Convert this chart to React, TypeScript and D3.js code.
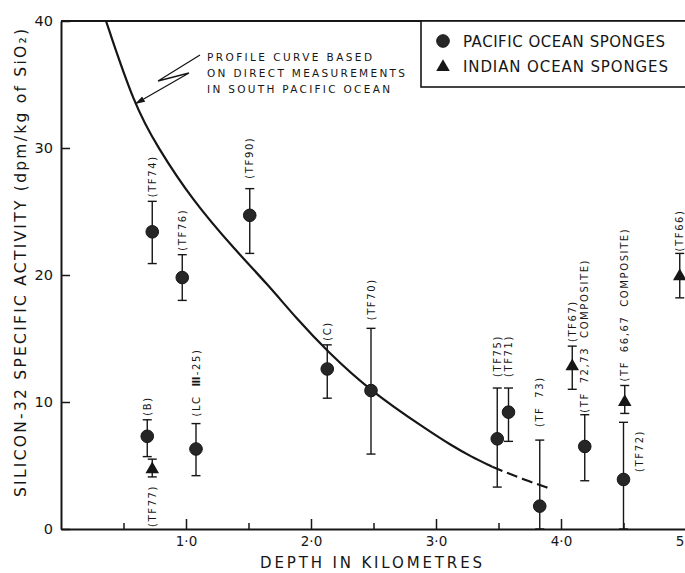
import React, { useEffect, useRef } from 'react';
import * as d3 from 'd3';

const xTickValues = [1, 2, 3, 4, 5];
const xMinorTickValues = [0.5, 1.5, 2.5, 3.5, 4.5];
const yTickValues = [0, 10, 20, 30, 40];

// Pacific ocean sponges: depth (km), Si-32 activity, error bar low/high
const pacificLabels = ['(TF74)', '(TF76)', '(TF90)', '(B)', '(LC III-25)', '(C)', '(TF70)', '(TF75)', '(TF71)', '(TF 73)', '(TF 72,73  COMPOSITE)', '(TF72)'];
const pacificDepth = [0.73, 0.97, 1.51, 0.69, 1.08, 2.13, 2.48, 3.49, 3.58, 3.83, 4.19, 4.5];
const pacificActivity = [23.4, 19.8, 24.7, 7.3, 6.3, 12.6, 10.9, 7.1, 9.2, 1.8, 6.5, 3.9];
const pacificLow = [20.9, 18.0, 21.7, 5.7, 4.2, 10.3, 5.9, 3.3, 6.9, 0, 3.8, 0];
const pacificHigh = [25.8, 21.6, 26.8, 8.6, 8.3, 14.5, 15.8, 11.1, 11.1, 7.0, 9.0, 8.4];

// Indian ocean sponges
const indianLabels = ['(TF77)', '(TF67)', '(TF 66,67 COMPOSITE)', '(TF66)'];
const indianDepth = [0.73, 4.09, 4.51, 4.95];
const indianActivity = [4.7, 12.8, 10.0, 19.9];
const indianLow = [4.1, 11.0, 9.1, 18.2];
const indianHigh = [5.5, 14.4, 11.3, 21.7];

// profile curve (solid part, then dashed extrapolation)
const profileDepth = [0.36, 0.586, 0.77, 1.05, 1.39, 1.65, 1.89, 2.13, 2.47, 2.93, 3.12, 3.28, 3.45];
const profileActivity = [40, 33.4, 30.1, 25.9, 22.0, 19.3, 16.5, 14.0, 10.9, 7.8, 6.6, 5.7, 4.9];
const profileDashDepth = [3.45, 3.71, 3.91];
const profileDashActivity = [4.9, 3.86, 3.2];

const annotationLines = ['PROFILE  CURVE  BASED', 'ON  DIRECT  MEASUREMENTS', 'IN  SOUTH  PACIFIC  OCEAN'];
const legendLabels = ['PACIFIC  OCEAN  SPONGES', 'INDIAN  OCEAN  SPONGES'];

// label placement tweaks (gap in px from the error bar, or side placement)
const labelGap = { '(TF90)': 10, '(TF70)': 8, '(LC III-25)': 7, '(TF75)': 11, '(TF71)': 11, '(TF 73)': 13, '(TF 72,73  COMPOSITE)': 2, '(TF66)': 2 };
const labelSide = { '(TF77)': 'below', '(TF72)': 'right' };

const INK = '#161616';
const FONT = '"DejaVu Sans", sans-serif';

const Chart = () => {
  const svgRef = useRef(null);

  useEffect(() => {
    const width = 685;
    const height = 573;
    const svg = d3.select(svgRef.current);
    svg.selectAll('*').remove();
    svg.attr('width', width).attr('height', height);

    const x = d3.scaleLinear().domain([0, 5]).range([61, 686]);
    const y = d3.scaleLinear().domain([0, 40]).range([529, 21]);

    svg.append('rect').attr('width', width).attr('height', height).attr('fill', '#fff');

    const defs = svg.append('defs');
    defs.append('marker')
      .attr('id', 'arrowhead')
      .attr('markerUnits', 'userSpaceOnUse')
      .attr('markerWidth', 12).attr('markerHeight', 8)
      .attr('refX', 10).attr('refY', 3)
      .attr('orient', 'auto')
      .append('path')
      .attr('d', 'M0,0 L10,3 L0,6 Z')
      .attr('fill', INK);

    // axes
    const xAxis = svg.append('g')
      .attr('transform', `translate(0,${y(0)})`)
      .call(d3.axisBottom(x).tickValues(xTickValues).tickSize(-10).tickSizeOuter(0).tickPadding(7)
        .tickFormat(d => d3.format('.1f')(d).replace('.', '·')));
    xAxis.select('.domain').attr('stroke', INK).attr('stroke-width', 2);
    xAxis.selectAll('.tick line').attr('stroke', INK).attr('stroke-width', 1.5);
    xAxis.selectAll('.tick text').attr('fill', INK).attr('font-family', FONT).attr('font-size', 13.5);

    const xMinor = svg.append('g')
      .attr('transform', `translate(0,${y(0)})`)
      .call(d3.axisBottom(x).tickValues(xMinorTickValues).tickSize(-6).tickFormat(() => ''));
    xMinor.select('.domain').remove();
    xMinor.selectAll('.tick line').attr('stroke', INK).attr('stroke-width', 1.5);

    const yAxis = svg.append('g')
      .attr('transform', `translate(${x(0)},0)`)
      .call(d3.axisLeft(y).tickValues(yTickValues).tickSize(-9).tickSizeOuter(0).tickPadding(8));
    yAxis.select('.domain').attr('stroke', INK).attr('stroke-width', 2);
    yAxis.selectAll('.tick line').attr('stroke', INK).attr('stroke-width', 1.5);
    yAxis.selectAll('.tick text').attr('fill', INK).attr('font-family', FONT).attr('font-size', 14.5);

    // top frame
    svg.append('line')
      .attr('x1', x(0)).attr('x2', width).attr('y1', y(40)).attr('y2', y(40))
      .attr('stroke', INK).attr('stroke-width', 2);

    // axis titles
    svg.append('text')
      .attr('x', 260).attr('y', 568)
      .attr('font-family', FONT).attr('font-size', 15).attr('fill', INK)
      .attr('textLength', 222).attr('lengthAdjust', 'spacing')
      .text('DEPTH  IN  KILOMETRES');
    svg.append('text')
      .attr('transform', 'translate(26,497) rotate(-90)')
      .attr('font-family', FONT).attr('font-size', 15.5).attr('fill', INK)
      .attr('textLength', 468).attr('lengthAdjust', 'spacing')
      .text('SILICON-32  SPECIFIC  ACTIVITY  (dpm/kg  of  SiO₂)');

    // profile curve
    const line = d3.line().x(d => x(d[0])).y(d => y(d[1])).curve(d3.curveBasis);
    svg.append('path')
      .datum(profileDepth.map((d, i) => [d, profileActivity[i]]))
      .attr('d', line)
      .attr('fill', 'none').attr('stroke', INK).attr('stroke-width', 2.2);
    svg.append('path')
      .datum(profileDashDepth.map((d, i) => [d, profileDashActivity[i]]))
      .attr('d', line)
      .attr('fill', 'none').attr('stroke', INK).attr('stroke-width', 2.2)
      .attr('stroke-dasharray', '11,5');

    const pacific = pacificLabels.map((label, i) => ({
      label, depth: pacificDepth[i], value: pacificActivity[i], lo: pacificLow[i], hi: pacificHigh[i], kind: 'circle'
    }));
    const indian = indianLabels.map((label, i) => ({
      label, depth: indianDepth[i], value: indianActivity[i], lo: indianLow[i], hi: indianHigh[i], kind: 'triangle'
    }));
    const points = pacific.concat(indian);

    // error bars
    const bars = svg.append('g').attr('stroke', INK).attr('stroke-width', 1.4);
    points.forEach(p => {
      const cx = x(p.depth);
      bars.append('line').attr('x1', cx).attr('x2', cx).attr('y1', y(p.lo)).attr('y2', y(p.hi));
      bars.append('line').attr('x1', cx - 4.5).attr('x2', cx + 4.5).attr('y1', y(p.lo)).attr('y2', y(p.lo));
      bars.append('line').attr('x1', cx - 4.5).attr('x2', cx + 4.5).attr('y1', y(p.hi)).attr('y2', y(p.hi));
    });

    // markers
    const triangle = d3.symbol().type(d3.symbolTriangle).size(80);
    points.forEach(p => {
      if (p.kind === 'circle') {
        svg.append('circle')
          .attr('cx', x(p.depth)).attr('cy', y(p.value)).attr('r', 6.3)
          .attr('fill', '#262626').attr('stroke', INK).attr('stroke-width', 1);
      } else {
        svg.append('path')
          .attr('d', triangle())
          .attr('transform', `translate(${x(p.depth)},${y(p.value)})`)
          .attr('fill', INK);
      }
    });

    // point labels, rotated
    points.forEach(p => {
      const side = labelSide[p.label] || 'above';
      const gap = labelGap[p.label] ?? 4;
      let lx = x(p.depth);
      let ly = y(p.hi) - gap;
      let anchor = 'start';
      if (side === 'below') {
        ly = y(p.lo) + 8;
        anchor = 'end';
      } else if (side === 'right') {
        lx = x(p.depth) + 16;
        ly = (y(p.hi) + y(p.value)) / 2;
        anchor = 'middle';
      }
      const t = svg.append('text')
        .attr('transform', `translate(${lx},${ly}) rotate(-90)`)
        .attr('dy', '0.36em')
        .attr('text-anchor', anchor)
        .attr('font-family', FONT).attr('font-size', 10).attr('fill', INK)
        .attr('letter-spacing', 1.6).attr('word-spacing', 4);
      if (p.label.includes('III')) {
        // roman numeral drawn with tight spacing
        const [before, after] = p.label.split('III');
        t.append('tspan').text(before);
        t.append('tspan').attr('letter-spacing', -0.6).attr('font-weight', 'bold').text('III');
        t.append('tspan').attr('dx', 2).text(after);
      } else {
        t.text(p.label);
      }
    });

    // annotation with zig-zag arrow
    annotationLines.forEach((t, i) => {
      svg.append('text')
        .attr('x', 207).attr('y', 61 + i * 16)
        .attr('font-family', FONT).attr('font-size', 10.5).attr('fill', INK)
        .attr('textLength', [165, 198, 183][i]).attr('lengthAdjust', 'spacing')
        .text(t);
    });
    svg.append('path')
      .attr('d', 'M200,55 L158,81 L189,73 L135,104')
      .attr('fill', 'none').attr('stroke', INK).attr('stroke-width', 1.3)
      .attr('marker-end', 'url(#arrowhead)');

    // legend
    svg.append('rect')
      .attr('x', 421).attr('y', y(40)).attr('width', 300).attr('height', 66)
      .attr('fill', '#fff').attr('stroke', INK).attr('stroke-width', 1.6);
    svg.append('circle').attr('cx', 443).attr('cy', 41).attr('r', 6.3).attr('fill', '#262626').attr('stroke', INK);
    svg.append('path').attr('d', triangle()).attr('transform', 'translate(443,67)').attr('fill', INK);
    legendLabels.forEach((t, i) => {
      svg.append('text')
        .attr('x', 463).attr('y', 47 + i * 25)
        .attr('font-family', FONT).attr('font-size', 15).attr('fill', INK)
        .attr('textLength', [202, 205][i]).attr('lengthAdjust', 'spacing')
        .text(t);
    });
  }, []);

  return <svg ref={svgRef} style={{ position: 'absolute', left: 0, top: 0 }}></svg>;
};

export default function App() {
  return <Chart />;
}
